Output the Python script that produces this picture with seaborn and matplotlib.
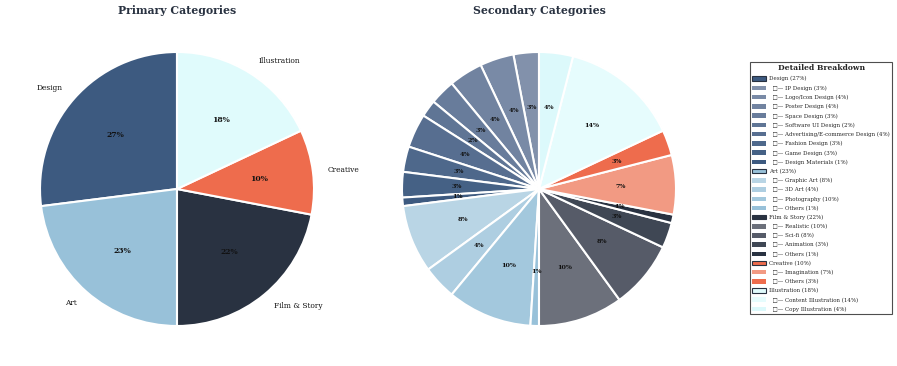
import matplotlib
matplotlib.use("Agg")
import matplotlib.pyplot as plt
from matplotlib.patches import Patch
import seaborn as sns

# ---- data ----
primary_labels = ["Design", "Art", "Film & Story", "Creative", "Illustration"]
primary_values = [27, 23, 22, 10, 18]

design_sub = ["IP Design", "Logo/Icon Design", "Poster Design", "Space Design",
              "Software UI Design", "Advertising/E-commerce Design", "Fashion Design",
              "Game Design", "Design Materials"]
design_vals = [3, 4, 4, 3, 2, 4, 3, 3, 1]
art_sub = ["Graphic Art", "3D Art", "Photography", "Others"]
art_vals = [8, 4, 10, 1]
film_sub = ["Realistic", "Sci-fi", "Animation", "Others"]
film_vals = [10, 8, 3, 1]
creative_sub = ["Imagination", "Others"]
creative_vals = [7, 3]
illus_sub = ["Content Illustration", "Copy Illustration"]
illus_vals = [14, 4]

# ---- styles ----
sns.set_theme(style="white")
plt.rcParams["font.family"] = ["DejaVu Serif", "DejaVu Sans"]

primary_colors = ["#3d5a80", "#98c1d9", "#293241", "#ee6c4d", "#e0fbfc"]
sub_colors = [
    sns.blend_palette(["#8291ab", "#3d5a80"], len(design_vals)),
    sns.blend_palette(["#b9d5e5", "#98c1d9"], len(art_vals)),
    sns.blend_palette(["#6c707b", "#293241"], len(film_vals)),
    ["#f29a83", "#ee6c4d"],
    ["#e6fcfd", "#dcf9fb"],
]
subs = [design_sub, art_sub, film_sub, creative_sub, illus_sub]
sub_vals = [design_vals, art_vals, film_vals, creative_vals, illus_vals]

W, H = 897, 366
fig = plt.figure(figsize=(W / 100, H / 100), dpi=100)

R = 137
lim = 1.05


def make_ax(cx, cy):
    s = 2 * R * lim
    ax = fig.add_axes([(cx - s / 2) / W, 1 - (cy + s / 2) / H, s / W, s / H])
    return ax


def finish(ax):
    ax.set_xlim(-lim, lim)
    ax.set_ylim(-lim, lim)
    ax.set_aspect("equal")
    ax.axis("off")


ax1 = make_ax(177, 189)
wedges, texts, autotexts = ax1.pie(
    primary_values, labels=primary_labels, colors=primary_colors,
    startangle=90, counterclock=True, autopct="%1.0f%%", pctdistance=0.6,
    labeldistance=1.11, wedgeprops=dict(edgecolor="white", linewidth=1.5),
    textprops=dict(fontsize=5.4, color="#111111"))
for t in autotexts:
    t.set_fontsize(5.5)
    t.set_fontweight("bold")
    t.set_color("#111111")
finish(ax1)

ax2 = make_ax(539, 189)
all_vals = [v for vals in sub_vals for v in vals]
all_cols = [c for cols in sub_colors for c in cols]
w2, _, at2 = ax2.pie(
    all_vals, colors=all_cols, startangle=90, counterclock=True,
    autopct="%1.0f%%", pctdistance=0.6,
    wedgeprops=dict(edgecolor="white", linewidth=1.5),
    textprops=dict(fontsize=4.6, color="#111111", fontweight="bold"))
finish(ax2)

fig.text(177 / W, 1 - 10 / H, "Primary Categories", ha="center", va="center",
         fontsize=7.8, fontweight="bold", color="#293241")
fig.text(539 / W, 1 - 10 / H, "Secondary Categories", ha="center", va="center",
         fontsize=7.8, fontweight="bold", color="#293241")

# ---- legend ----
handles, labels = [], []
for name, val, pc, sl, sv, sc in zip(primary_labels, primary_values, primary_colors,
                                      subs, sub_vals, sub_colors):
    handles.append(Patch(facecolor=pc, edgecolor="#293241", linewidth=0.8))
    labels.append(f"{name} ({val}%)")
    for n, v, c in zip(sl, sv, sc):
        handles.append(Patch(facecolor=c, edgecolor="none"))
        labels.append(f"  \u25a1\u2014 {n} ({v}%)")

leg = fig.legend(handles, labels, loc="upper right",
                 bbox_to_anchor=(892 / W, 1 - 62 / H),
                 title="Detailed Breakdown", fontsize=4.0,
                 title_fontproperties=dict(weight="bold", size=5.5),
                 frameon=True, fancybox=False, edgecolor="#222222",
                 handlelength=2.5, handleheight=0.86, labelspacing=0.72,
                 handletextpad=0.5, borderpad=0.4, borderaxespad=0)
leg.get_frame().set_linewidth(0.8)

fig.savefig("out.png", dpi=100)
